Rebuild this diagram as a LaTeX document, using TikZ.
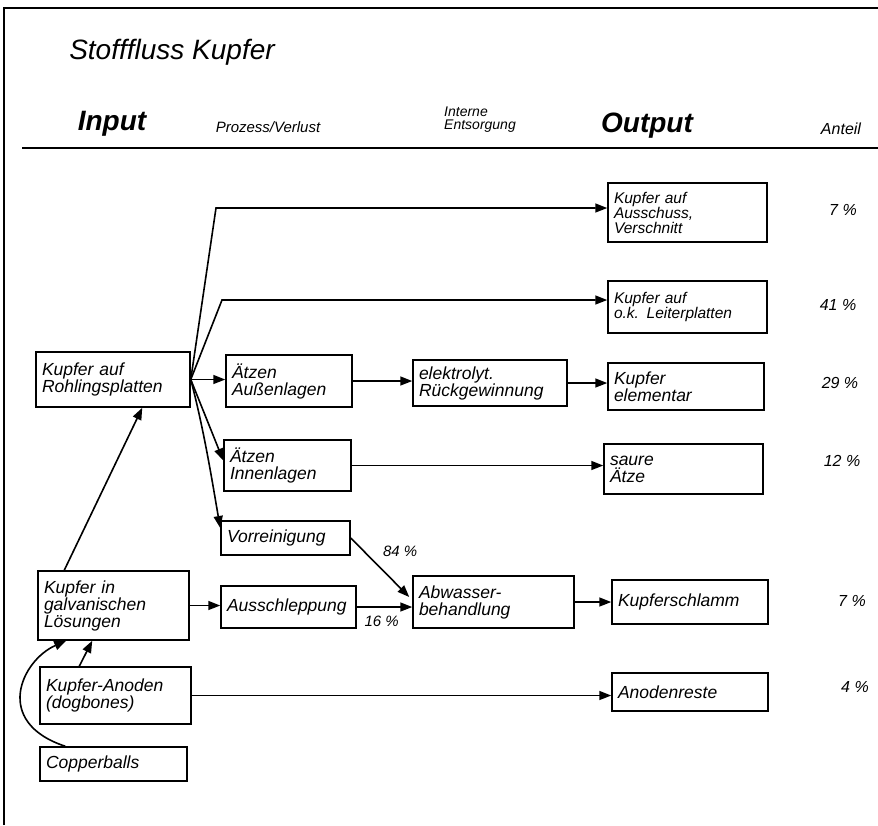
\documentclass[tikz,border=0pt]{standalone}
\usepackage{fontspec}
\setmainfont{Liberation Sans}
\usetikzlibrary{arrows.meta,calc}
\begin{document}
\begin{tikzpicture}[x=1pt,y=-1pt,
  box/.style={draw, line width=1.5pt, inner xsep=6pt, inner ysep=2pt, align=left, font=\itshape\fontsize{17.5}{17}\selectfont},
  sbox/.style={box, font=\itshape\fontsize{15.5}{15}\selectfont},
  arr/.style={-{Triangle[length=12pt,width=9pt]}, line width=1.6pt},
  pct/.style={font=\itshape\fontsize{16}{18}\selectfont},
  lbl/.style={font=\itshape\fontsize{15}{17}\selectfont},
  head/.style={font=\itshape\fontsize{15}{16}\selectfont},
  bighead/.style={font=\bfseries\itshape\fontsize{28}{30}\selectfont}]
\useasboundingbox (0,0) rectangle (878,825);
% frame
\coordinate (fa) at (4,825);
\coordinate (fb) at (4,8);
\coordinate (fc) at (878,8);
\draw[line width=2.6pt] (fa) -- (fb) -- (fc);
\coordinate (ha) at (22,148);
\coordinate (hb) at (878,148);
\draw[line width=2.2pt] (ha) -- (hb);
% title & header
\node[font=\itshape\fontsize{28}{30}\selectfont] (title) at (172,52) {Stofffluss Kupfer};
\node[bighead] (hin) at (112,124) {Input};
\node[head] (hpr) at (268,127) {Prozess/Verlust};
\node[head, align=left, font=\itshape\fontsize{14}{13}\selectfont] (hie) at (480,120) {Interne\\Entsorgung};
\node[bighead] (hout) at (647,126) {Output};
\node[font=\itshape\fontsize{16}{17}\selectfont] (hant) at (841,129) {Anteil};
% boxes
\node[sbox, minimum width=159pt, minimum height=59pt, text width=147pt] (aus) at (687.5,212.5) {Kupfer auf\\Ausschuss,\\Verschnitt};
\node[sbox, minimum width=159pt, minimum height=52pt, text width=147pt] (ok) at (687.5,307) {Kupfer auf\\o.k. Leiterplatten};
\node[box, minimum width=154pt, minimum height=55pt, text width=142pt] (roh) at (113,379.5) {Kupfer auf\\Rohlingsplatten};
\node[box, minimum width=126pt, minimum height=52pt, text width=114pt] (aussen) at (289,381) {Ätzen\\Außenlagen};
\node[box, minimum width=154pt, minimum height=46pt, text width=142pt] (elek) at (490,383) {elektrolyt.\\Rückgewinnung};
\node[box, minimum width=156pt, minimum height=47pt, text width=144pt] (elem) at (686,386.5) {Kupfer\\elementar};
\node[box, minimum width=127pt, minimum height=51pt, text width=115pt] (innen) at (287.5,465.5) {Ätzen\\Innenlagen};
\node[box, minimum width=159pt, minimum height=50pt, text width=147pt] (saure) at (683.5,469) {saure\\Ätze};
\node[box, minimum width=129pt, minimum height=34pt, text width=117pt] (vorr) at (285.5,538) {Vorreinigung};
\node[box, minimum width=161pt, minimum height=52pt, text width=149pt] (abw) at (493.5,602) {Abwasser-\\behandlung};
\node[box, minimum width=156pt, minimum height=44pt, text width=144pt] (schl) at (690,602) {Kupferschlamm};
\node[box, minimum width=151pt, minimum height=69pt, text width=139pt] (galv) at (113.5,605.5) {Kupfer in\\galvanischen\\Lösungen};
\node[box, minimum width=135pt, minimum height=42pt, text width=123pt] (ausschl) at (288.5,607) {Ausschleppung};
\node[box, minimum width=151pt, minimum height=57pt, text width=139pt] (anod) at (115.5,695.5) {Kupfer-Anoden\\(dogbones)};
\node[box, minimum width=156pt, minimum height=38pt, text width=144pt] (rest) at (690,692) {Anodenreste};
\node[box, minimum width=147pt, minimum height=34pt, text width=135pt] (copper) at (113.5,764) {Copperballs};
% percentages
\node[pct] (p1) at (843,210) {7 \%};
\node[pct] (p2) at (838,305) {41 \%};
\node[pct] (p3) at (840,383) {29 \%};
\node[pct] (p4) at (842,461) {12 \%};
\node[pct] (p5) at (852,601) {7 \%};
\node[pct] (p6) at (855,687) {4 \%};
% connectors
\coordinate (k1) at (216,208);
\coordinate (k2) at (222,300);
\draw[arr] (roh.east) -- (k1) -- (k1 -| aus.west);
\draw[arr] (roh.east) -- (k2) -- (k2 -| ok.west);
\draw[arr] (roh.east) -- (roh.east -| aussen.west);
\draw[arr] (roh.east) -- ($(innen.west)+(0,-5)$);
\draw[arr] (roh.east) .. controls (204,430) and (212,480) .. ($(vorr.west)+(0,-10)$);
\draw[arr] (aussen.east) -- (aussen.east -| elek.west);
\draw[arr] (elek.east) -- (elek.east -| elem.west);
\draw[arr] (innen.east) -- (innen.east -| saure.west);
\draw[arr] (vorr.east) -- ($(abw.west)+(-3,-5)$) node[pos=0.55, above right, lbl, yshift=10pt, xshift=-4pt] (l84) {84 \%};
\draw[arr] (ausschl.east) -- (ausschl.east -| abw.west) node[pos=0.45, below, lbl, yshift=-5pt] (l16) {16 \%};
\draw[arr] (galv.east) -- (galv.east -| ausschl.west);
\draw[arr] (abw.east) -- (abw.east -| schl.west);
\draw[arr] (anod.east) -- (anod.east -| rest.west);
\draw[arr] ($(galv.north west)+(27,0)$) -- ($(roh.south west)+(107,0)$);
\draw[arr] ($(anod.north west)+(40,0)$) -- ($(galv.south west)+(55,0)$);
\draw[arr] ($(copper.north west)+(26,0)$) .. controls (-8,722) and (22,660) .. ($(galv.south west)+(29,0)$);
\end{tikzpicture}
\end{document}
